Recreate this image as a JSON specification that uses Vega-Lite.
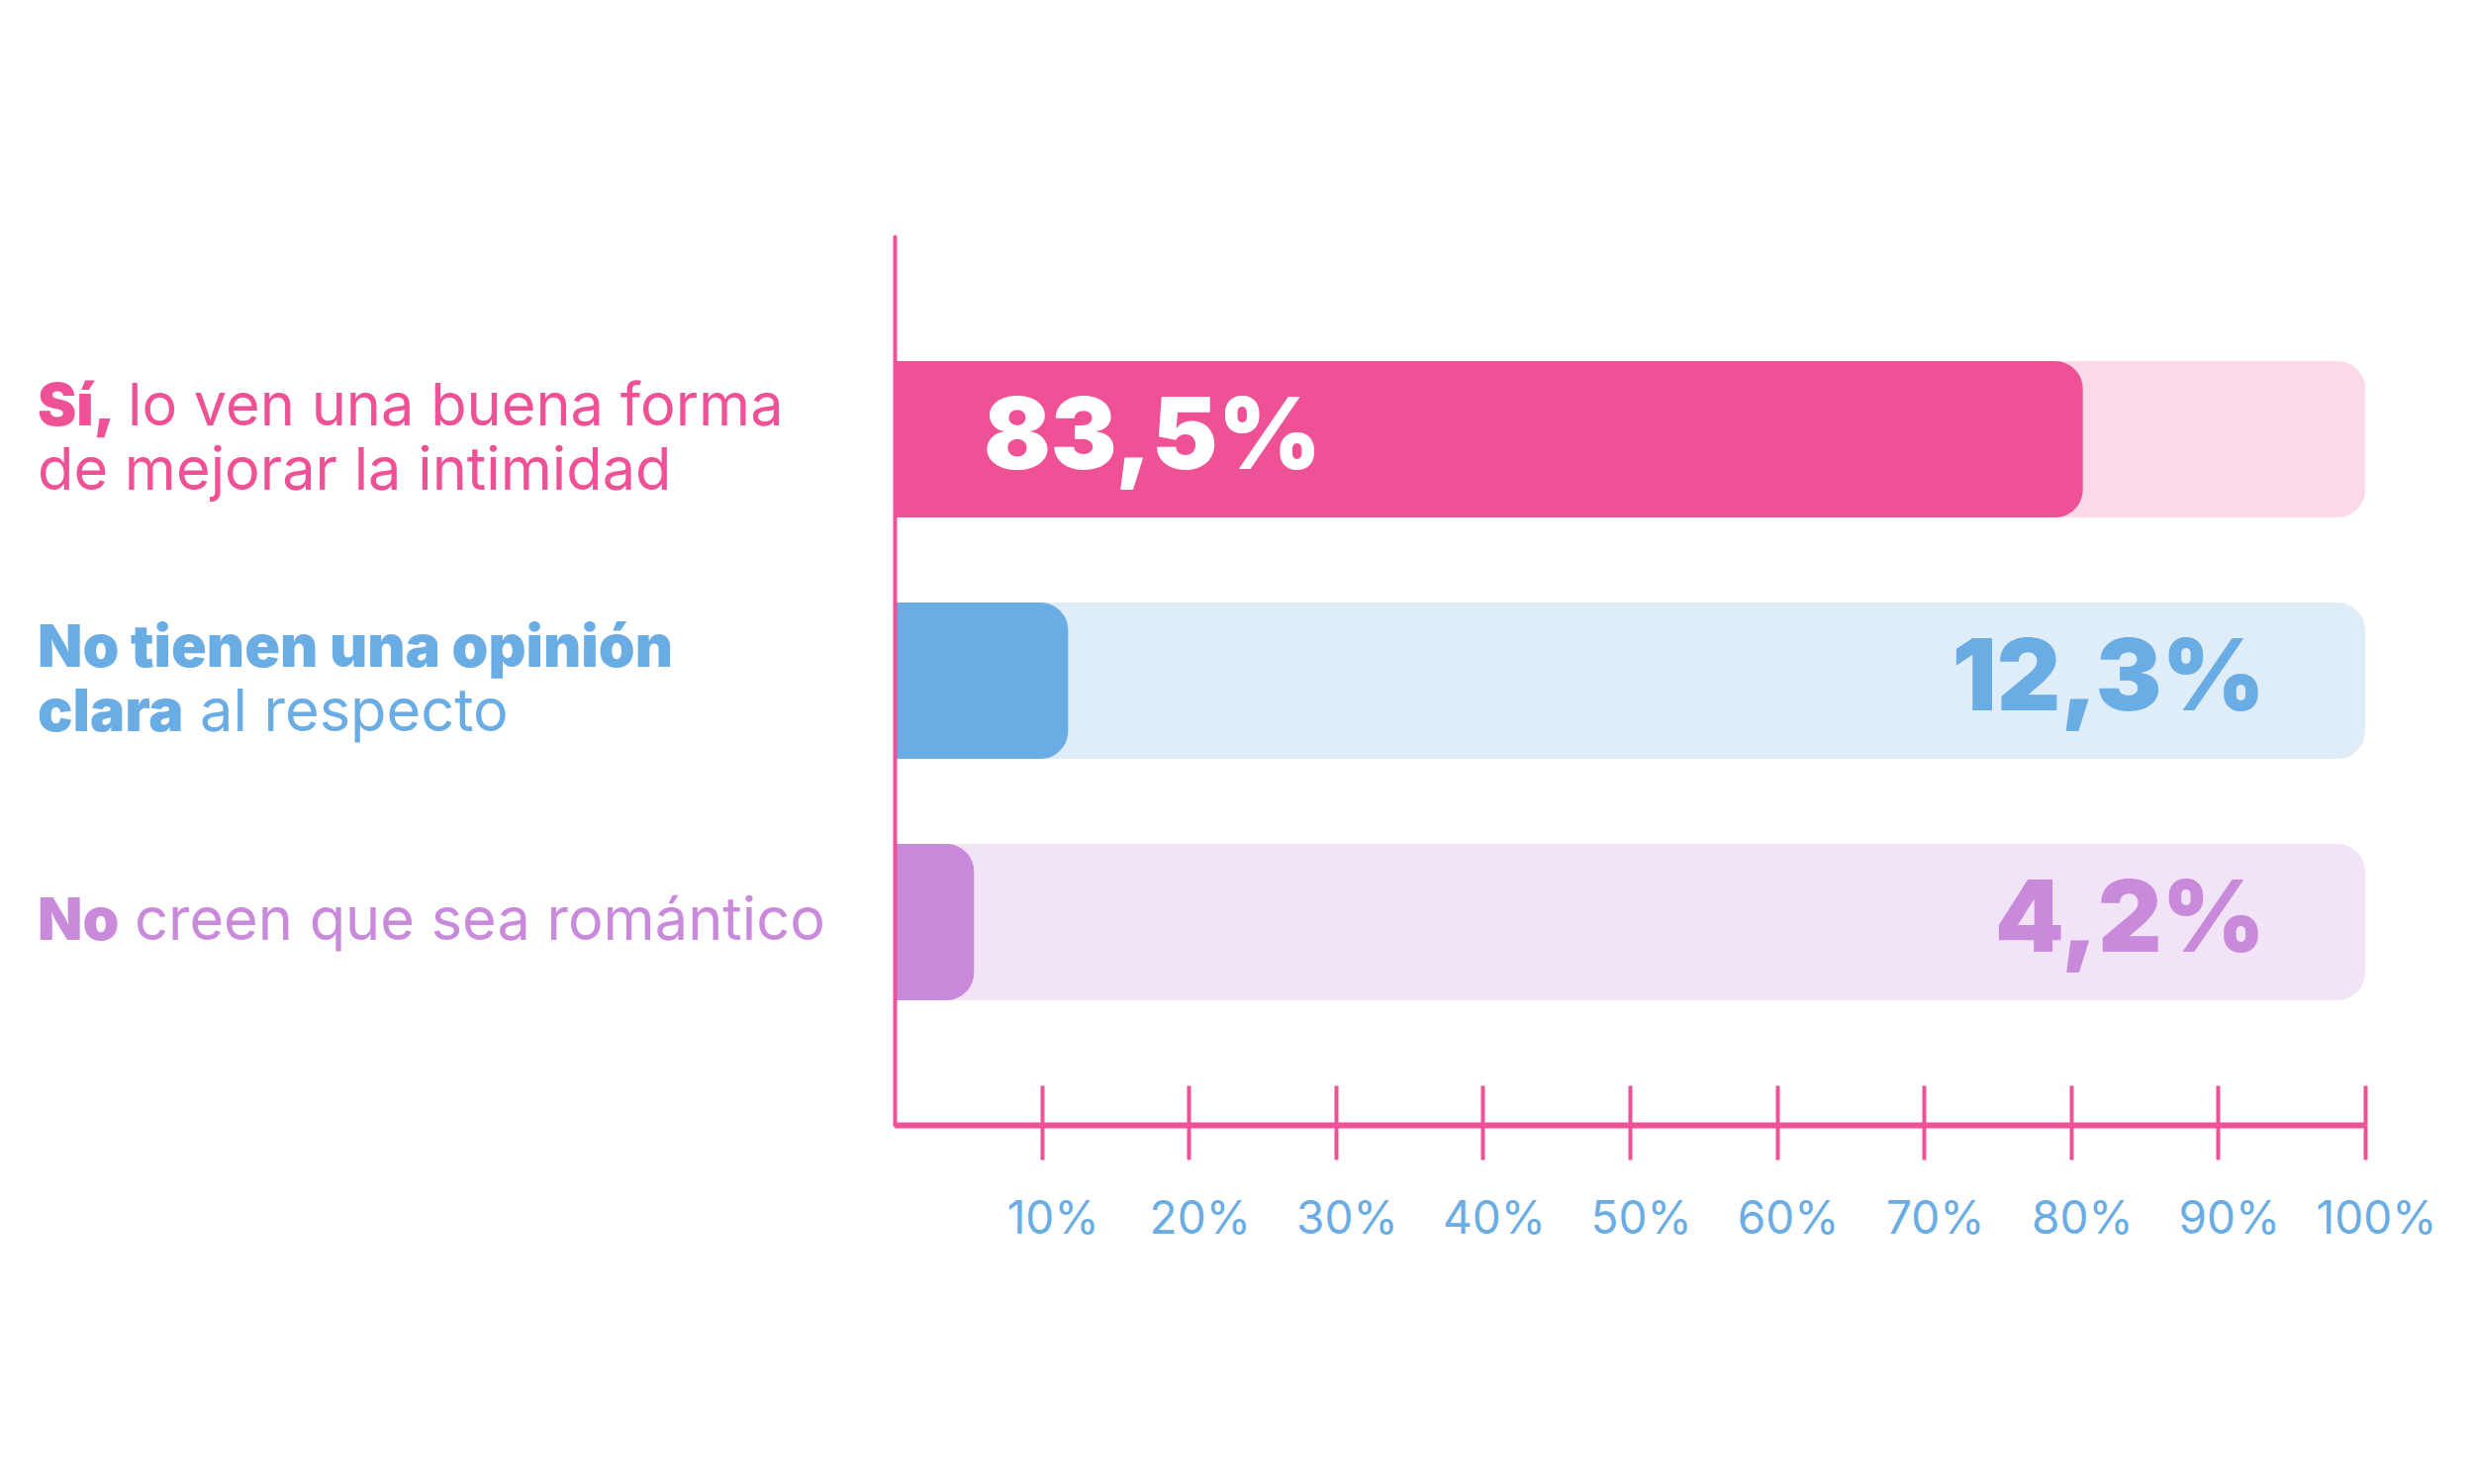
{
  "$schema": "https://vega.github.io/schema/vega-lite/v6.json",
  "width": 1486,
  "height": 898,
  "autosize": {"type": "none"},
  "padding": {"left": 904, "top": 239, "right": 110, "bottom": 363},
  "background": "white",
  "config": {"view": {"stroke": null}},
  "data": {
    "values": [
      {"cat": "si", "value": 83.5, "bar": 80.8, "pct": "83,5%", "lead": ["Sí,", ""], "left2": ["", "de mejorar la intimidad"], "cont": ["lo ven una buena forma", ""]},
      {"cat": "neutral", "value": 12.3, "bar": 11.8, "pct": "12,3%", "lead": ["No tienen una opinión", "clara"], "left2": "", "cont": ["", "al respecto"]},
      {"cat": "no", "value": 4.2, "bar": 5.4, "pct": "4,2%", "lead": "No", "left2": "", "cont": "creen que sea romántico"}
    ]
  },
  "encoding": {
    "y": {"field": "cat", "type": "nominal",
      "scale": {"domain": ["si", "neutral", "no"], "paddingInner": 0.352, "paddingOuter": 0.516},
      "axis": {"domain": true, "domainColor": "#EF5196", "domainWidth": 4, "domainCap": "round", "ticks": false, "labels": false, "title": null, "grid": false, "zindex": 2}}
  },
  "resolve": {"scale": {"color": "independent"}, "axis": {"x": "independent"}},
  "layer": [
    {
      "mark": {"type": "bar", "cornerRadiusTopRight": 28, "cornerRadiusBottomRight": 28},
      "encoding": {
        "x": {"datum": 0, "type": "quantitative",
          "scale": {"domain": [0, 100], "nice": false},
          "axis": {"orient": "bottom", "values": [10, 20, 30, 40, 50, 60, 70, 80, 90, 100], "domain": true, "domainColor": "#EF5196", "domainWidth": 6,
            "ticks": true, "tickSize": 35, "tickWidth": 4, "tickColor": "#EF5196",
            "labelExpr": "datum.value + '%'", "labelFont": "Inter", "labelFontSize": 46, "labelFontWeight": 400, "labelColor": "#6AACE4",
            "labelPadding": 38, "labelOffset": 11, "labelOverlap": false, "labelFlush": false, "grid": false, "title": null, "zindex": 1}},
        "x2": {"datum": 100},
        "color": {"field": "cat", "type": "nominal", "scale": {"domain": ["si", "neutral", "no"], "range": ["#FAD9E8", "#DFEDF9", "#F2E4F7"]}, "legend": null}
      }
    },
    {
      "mark": {"type": "bar", "cornerRadiusTopRight": 28, "cornerRadiusBottomRight": 28},
      "encoding": {
        "x": {"field": "bar", "type": "quantitative", "stack": null,
          "axis": {"orient": "bottom", "offset": -40, "values": [10, 20, 30, 40, 50, 60, 70, 80, 90, 100], "domain": false,
            "ticks": true, "tickSize": 40, "tickWidth": 4, "tickColor": "#EF5196", "labels": false, "grid": false, "title": null, "zindex": 1}},
        "color": {"field": "cat", "type": "nominal", "scale": {"domain": ["si", "neutral", "no"], "range": ["#EF5196", "#6AACE4", "#C98ADB"]}, "legend": null}
      }
    },
    {
      "transform": [{"filter": "datum.bar > 50"}],
      "mark": {"type": "text", "align": "left", "baseline": "middle", "dx": 90, "font": "Inter", "fontWeight": 900, "fontSize": 100, "color": "white"},
      "encoding": {
        "x": {"datum": 0, "type": "quantitative", "axis": null},
        "text": {"field": "pct", "type": "nominal"}
      }
    },
    {
      "transform": [{"filter": "datum.bar <= 50"}],
      "mark": {"type": "text", "align": "right", "baseline": "middle", "dx": -101, "font": "Inter", "fontWeight": 900, "fontSize": 100},
      "encoding": {
        "x": {"datum": 100, "type": "quantitative", "axis": null},
        "text": {"field": "pct", "type": "nominal"},
        "color": {"field": "cat", "type": "nominal", "scale": {"domain": ["si", "neutral", "no"], "range": ["#EF5196", "#6AACE4", "#C98ADB"]}, "legend": null}
      }
    },
    {
      "transform": [{"filter": "datum.cat != 'no'"}],
      "mark": {"type": "text", "align": "left", "baseline": "middle", "dx": -866, "dy": -32, "font": "Inter", "fontWeight": 900, "fontSize": 59, "lineHeight": 65},
      "encoding": {
        "x": {"datum": 0, "type": "quantitative", "axis": null},
        "text": {"field": "lead", "type": "nominal"},
        "color": {"field": "cat", "type": "nominal", "scale": {"domain": ["si", "neutral", "no"], "range": ["#EF5196", "#6AACE4", "#C98ADB"]}, "legend": null}
      }
    },
    {
      "transform": [{"filter": "datum.cat == 'no'"}],
      "mark": {"type": "text", "align": "left", "baseline": "middle", "dx": -866, "dy": 0, "font": "Inter", "fontWeight": 900, "fontSize": 59, "lineHeight": 65},
      "encoding": {
        "x": {"datum": 0, "type": "quantitative", "axis": null},
        "text": {"field": "lead", "type": "nominal"},
        "color": {"field": "cat", "type": "nominal", "scale": {"domain": ["si", "neutral", "no"], "range": ["#EF5196", "#6AACE4", "#C98ADB"]}, "legend": null}
      }
    },
    {
      "transform": [{"filter": "datum.cat == 'si'"}],
      "mark": {"type": "text", "align": "left", "baseline": "middle", "dx": -866, "dy": -32, "font": "Inter", "fontWeight": 400, "fontSize": 59.5, "lineHeight": 65},
      "encoding": {
        "x": {"datum": 0, "type": "quantitative", "axis": null},
        "text": {"field": "left2", "type": "nominal"},
        "color": {"field": "cat", "type": "nominal", "scale": {"domain": ["si", "neutral", "no"], "range": ["#EF5196", "#6AACE4", "#C98ADB"]}, "legend": null}
      }
    },
    {
      "transform": [{"filter": "datum.cat == 'si'"}],
      "mark": {"type": "text", "align": "left", "baseline": "middle", "dx": -775, "dy": -32, "font": "Inter", "fontWeight": 400, "fontSize": 59.5, "lineHeight": 65},
      "encoding": {
        "x": {"datum": 0, "type": "quantitative", "axis": null},
        "text": {"field": "cont", "type": "nominal"},
        "color": {"field": "cat", "type": "nominal", "scale": {"domain": ["si", "neutral", "no"], "range": ["#EF5196", "#6AACE4", "#C98ADB"]}, "legend": null}
      }
    },
    {
      "transform": [{"filter": "datum.cat == 'neutral'"}],
      "mark": {"type": "text", "align": "left", "baseline": "middle", "dx": -702, "dy": -32, "font": "Inter", "fontWeight": 400, "fontSize": 59.5, "lineHeight": 65},
      "encoding": {
        "x": {"datum": 0, "type": "quantitative", "axis": null},
        "text": {"field": "cont", "type": "nominal"},
        "color": {"field": "cat", "type": "nominal", "scale": {"domain": ["si", "neutral", "no"], "range": ["#EF5196", "#6AACE4", "#C98ADB"]}, "legend": null}
      }
    },
    {
      "transform": [{"filter": "datum.cat == 'no'"}],
      "mark": {"type": "text", "align": "left", "baseline": "middle", "dx": -768, "dy": 0, "font": "Inter", "fontWeight": 400, "fontSize": 59.5, "lineHeight": 65},
      "encoding": {
        "x": {"datum": 0, "type": "quantitative", "axis": null},
        "text": {"field": "cont", "type": "nominal"},
        "color": {"field": "cat", "type": "nominal", "scale": {"domain": ["si", "neutral", "no"], "range": ["#EF5196", "#6AACE4", "#C98ADB"]}, "legend": null}
      }
    }
  ]
}
